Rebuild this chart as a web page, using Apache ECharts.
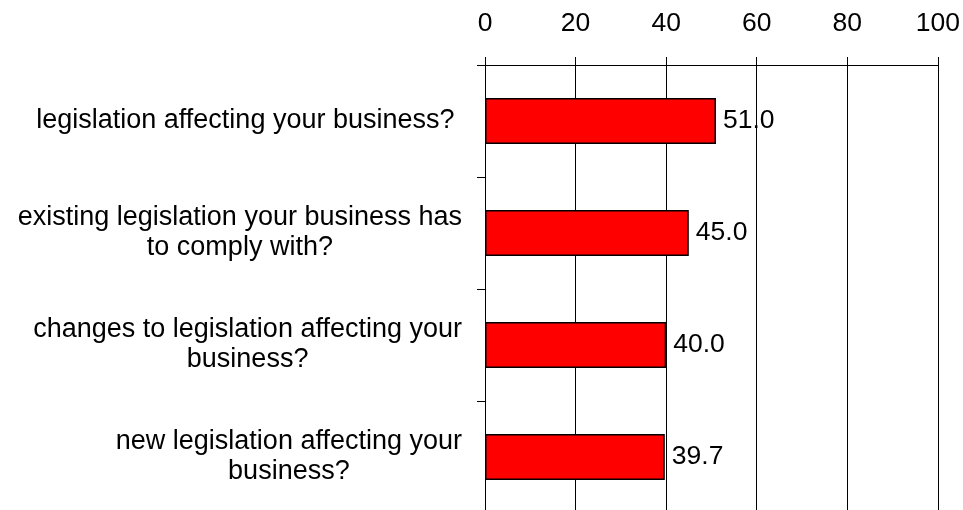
<!DOCTYPE html>
<html>
<head>
<meta charset="utf-8">
<script src="https://cdn.jsdelivr.net/npm/echarts@6/dist/echarts.min.js"></script>
<style>
  html, body { margin: 0; padding: 0; background: #fff; overflow: hidden; }
  #chart { width: 963px; height: 520px; }
</style>
</head>
<body>
<div id="chart"></div>
<script>
// Survey questions (top to bottom) and the share of respondents, in percent
const questions = [
  'legislation affecting your business? ',
  'existing legislation your business has\nto comply with?',
  'changes to legislation affecting your\nbusiness?',
  'new legislation affecting your\nbusiness?'
];
const percentages = [51.0, 45.0, 40.0, 39.7];
const valueTicks = [0, 20, 40, 60, 80, 100];

const FONT = '"Liberation Sans", Arial, sans-serif';
const chart = echarts.init(document.getElementById('chart'), null, { renderer: 'canvas' });

chart.setOption({
  animation: false,
  backgroundColor: '#ffffff',
  // the plot runs slightly past the bottom edge of the window
  grid: { left: 485, right: 24, top: 65, height: 448, containLabel: false },
  xAxis: {
    type: 'value',
    position: 'top',
    min: valueTicks[0],
    max: valueTicks[valueTicks.length - 1],
    interval: valueTicks[1] - valueTicks[0],
    axisLine: { show: true, lineStyle: { color: '#000', width: 1 } },
    axisTick: { show: true, length: 8, lineStyle: { color: '#000' } },
    splitLine: { show: true, lineStyle: { color: '#000', width: 1 } },
    axisLabel: { color: '#000', fontFamily: FONT, fontSize: 26.5, margin: 28 }
  },
  yAxis: {
    type: 'category',
    inverse: true,
    data: questions,
    axisLine: { show: true, lineStyle: { color: '#000', width: 1 } },
    axisTick: { show: true, length: 8, lineStyle: { color: '#000' } },
    axisLabel: {
      color: '#000',
      fontFamily: FONT,
      fontSize: 27,
      margin: 23,
      lineHeight: 30,
      formatter: function (v) {
        return v.split('\n').map(function (line) { return '{c|' + line + '}'; }).join('\n');
      },
      rich: { c: { align: 'center', fontFamily: FONT, fontSize: 27, lineHeight: 30, color: '#000' } }
    }
  },
  series: [{
    type: 'bar',
    data: percentages,
    barWidth: 46,
    itemStyle: { color: '#ff0000', borderColor: '#000', borderWidth: 1.5 },
    label: {
      show: true,
      position: 'right',
      distance: 7,
      color: '#000',
      fontFamily: FONT,
      fontSize: 26.5,
      formatter: function (p) { return p.value.toFixed(1); }
    }
  }]
});
</script>
</body>
</html>
